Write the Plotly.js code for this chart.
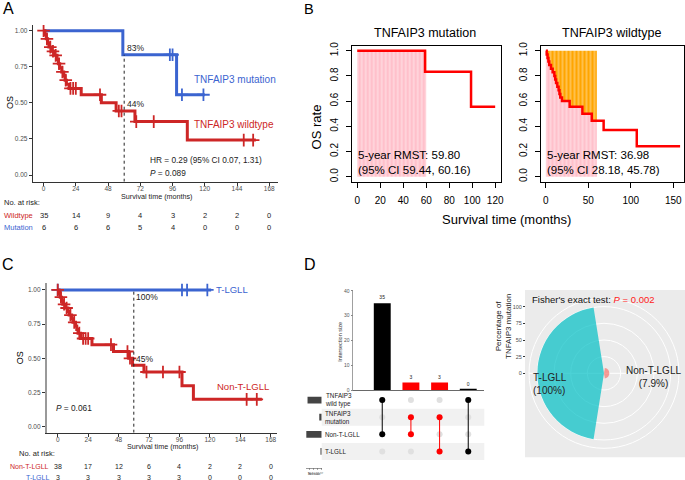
<!DOCTYPE html>
<html><head><meta charset="utf-8">
<script src="https://cdn.plot.ly/plotly-3.0.1.min.js"></script>
<style>html,body{margin:0;padding:0;background:#fff}#chart{width:685px;height:480px}</style>
</head><body><div id="chart"></div>
<script>
// ---------- Panel A / B data (TNFAIP3) ----------
const wtTime   = [0,1,2,3,4,6,8,10,11,12,13.5,15,16,17,19,28,43,54,68,107,158];
const wtSurv   = [1,0.971,0.943,0.914,0.886,0.857,0.829,0.800,0.771,0.743,0.714,0.686,0.657,0.629,0.600,0.556,0.500,0.444,0.370,0.242,0.242];
const wtCensor = [0,2.5,5,7,9,11.5,14,16.5,20,22,24,42,56,58,69,82,149,156];
const mutTime   = [0,59,99,120];
const mutSurv   = [1,0.833,0.556,0.556];
const mutCensor = [94,96,103,119];
const riskTicks = [0,24,48,72,96,120,144,168];
const riskWild  = [35,14,9,4,3,2,2,0];
const riskMut   = [6,6,6,5,4,0,0,0];
const landmark  = 60;
const rmstMut = ['5-year RMST: 59.80','(95% CI 59.44, 60.16)'];
const rmstWt  = ['5-year RMST: 36.98','(95% CI 28.18, 45.78)'];
// ---------- Panel C data (T-LGLL) ----------
const ntTime   = [0,1,2,3,4,6,8,9,11,12,14,15,16,18,27,44,56,59,68,98,107,161];
const ntSurv   = [1,0.974,0.947,0.921,0.895,0.868,0.842,0.816,0.789,0.763,0.737,0.711,0.684,0.645,0.600,0.550,0.500,0.450,0.400,0.300,0.200,0.200];
const ntCensor = [0,2.5,5,7,10,13,17,20,22,24,42,55,57,70,83,96,149,157];
const tTime    = [0,121];
const tSurv    = [1,1];
const tCensor  = [0,98,102,118];
const riskNonT = [38,17,12,6,4,2,2,0];
const riskT    = [3,3,3,3,3,0,0,0];
// ---------- Panel D data ----------
const setNames   = ['TNFAIP3<br>wild type','TNFAIP3<br>mutation','Non-T-LGLL','T-LGLL'];
const setSizes   = [35,6,38,3];
const interSizes = [35,3,3,0];
const interMembers = [[0,2],[1,2],[1,3],[0,3]];
const interColors  = ['#000000','#FF0000','#FF0000','#000000'];
const polarGroups = ['Non-T-LGLL','T-LGLL'];
const polarPct    = [7.9,100];
const polarColors = ['rgba(248,118,109,0.7)','rgba(0,191,196,0.7)'];

const W=685,H=480;
const PX=p=>p/W, PY=p=>1-p/H;
const FONT='Liberation Sans, Arial, Helvetica, sans-serif';
const RED='#CD2626', BLUE='#3B64D0';

function stepAt(times,survs,t){let s=survs[0];for(let i=0;i<times.length;i++){if(times[i]<=t)s=survs[i];}return s;}
function truncate(times,survs,tau){const x=[],y=[];for(let i=0;i<times.length;i++){if(times[i]<tau){x.push(times[i]);y.push(survs[i]);}}x.push(tau);y.push(stepAt(times,survs,tau));return {x,y};}

const traces=[];
function km(times,survs,cens,color,xa,ya){
  traces.push({type:'scatter',mode:'lines',x:times,y:survs,xaxis:xa,yaxis:ya,line:{shape:'hv',color:color,width:3},hoverinfo:'skip'});
  traces.push({type:'scatter',mode:'markers',x:cens,y:cens.map(t=>stepAt(times,survs,t)),xaxis:xa,yaxis:ya,
    marker:{symbol:'cross-thin',size:9,color:color,line:{color:color,width:1.8}},hoverinfo:'skip'});
}
// Panel A
km(mutTime,mutSurv,mutCensor,BLUE,'x','y');
km(wtTime,wtSurv,wtCensor,RED,'x','y');
// Panel C
km(tTime,tSurv,tCensor,BLUE,'x4','y4');
km(ntTime,ntSurv,ntCensor,RED,'x4','y4');

// Panel B
function rmst(times,survs,xa,ya){
  const tr=truncate(times,survs,landmark);
  traces.push({type:'scatter',mode:'lines',x:tr.x,y:tr.y,xaxis:xa,yaxis:ya,line:{shape:'hv',width:0,color:'pink'},
    fill:'tozeroy',fillcolor:'#FFC0CB',fillpattern:{shape:'|',bgcolor:'#FFC0CB',fgcolor:'#FFFFFF',fgopacity:0.75,size:4,solidity:0.2},hoverinfo:'skip'});
  traces.push({type:'scatter',mode:'lines',x:tr.x,y:tr.x.map(()=>1),xaxis:xa,yaxis:ya,line:{width:0,color:'orange'},
    fill:'tonexty',fillcolor:'#FFA500',fillpattern:{shape:'|',bgcolor:'#FFA500',fgcolor:'#FFFFFF',fgopacity:0.75,size:4,solidity:0.2},hoverinfo:'skip'});
  traces.push({type:'scatter',mode:'lines',x:times,y:survs,xaxis:xa,yaxis:ya,line:{shape:'hv',color:'#FF0000',width:2.5},hoverinfo:'skip'});
}
rmst(mutTime,mutSurv,'x2','y2');
rmst(wtTime,wtSurv,'x3','y3');

// Panel D: intersection bars
const idx=interSizes.map((_,i)=>i);
traces.push({type:'bar',x:idx,y:interSizes,xaxis:'x5',yaxis:'y5',width:0.59,marker:{color:interColors},
  text:interSizes.map(String),textposition:'outside',textfont:{size:5,color:'#222'},cliponaxis:false,hoverinfo:'skip'});
const zeroIdx=idx.filter(i=>interSizes[i]===0);
zeroIdx.forEach(i=>traces.push({type:'scatter',mode:'lines',x:[i-0.295,i+0.295],y:[interSizes[i],interSizes[i]],xaxis:'x5',yaxis:'y5',
  line:{color:interColors[i],width:2.5},hoverinfo:'skip',cliponaxis:false}));
// matrix background dots
const gx=[],gy=[];
idx.forEach(i=>setNames.forEach((_,r)=>{gx.push(i);gy.push(r+1);}));
traces.push({type:'scatter',mode:'markers',x:gx,y:gy,xaxis:'x6',yaxis:'y6',marker:{size:6,color:'#E0E0E0'},hoverinfo:'skip'});
interMembers.forEach((m,i)=>{
  traces.push({type:'scatter',mode:'lines+markers',x:m.map(()=>i),y:m.map(r=>r+1),xaxis:'x6',yaxis:'y6',
    line:{color:interColors[i],width:1},marker:{size:6,color:interColors[i]},hoverinfo:'skip'});
});
// set size bars
traces.push({type:'bar',orientation:'h',x:setSizes,y:setNames.map((_,r)=>r+1),xaxis:'x7',yaxis:'y7',width:0.4,marker:{color:'#444444'},hoverinfo:'skip'});
// polar
traces.push({type:'barpolar',r:polarPct,theta:polarGroups.map((_,i)=>i*180+90),width:polarGroups.map(()=>162),
  marker:{color:polarColors,line:{width:0}},subplot:'polar',hoverinfo:'skip'});
traces.push({type:'scatter',mode:'markers',x:[0],y:[0],xaxis:'x8',yaxis:'y8',marker:{opacity:0},hoverinfo:'skip'});

// ---------- axes ----------
const kmX=(dom,rng)=>({domain:dom,range:rng,tickvals:riskTicks,ticks:'outside',ticklen:3,tickcolor:'#333',tickwidth:1,ticklabelstandoff:-3,
  showline:true,linecolor:'#333',linewidth:1,tickfont:{size:6.5,color:'#4D4D4D'},showgrid:false,zeroline:false});
const kmY=(dom,rng,lc,lw)=>({domain:dom,range:rng,tickvals:[0,0.25,0.5,0.75,1],tickformat:'.2f',ticks:'outside',ticklen:3,tickcolor:'#333',tickwidth:1,
  showline:true,linecolor:lc,linewidth:lw,tickfont:{size:6.5,color:'#4D4D4D'},showgrid:false,zeroline:false});
const bX=(dom,rng,tv)=>({domain:dom,range:rng,tickvals:tv,ticks:'outside',ticklen:5,tickcolor:'#000',showline:true,mirror:true,ticklabelstandoff:4,
  linecolor:'#000',linewidth:1,tickfont:{size:10,color:'#000'},showgrid:false,zeroline:false});
const bY=(dom)=>({domain:dom,range:[-0.04,1.04],tickvals:[0,0.2,0.4,0.6,0.8,1],tickformat:'.1f',tickangle:-90,ticks:'outside',ticklen:5,ticklabelstandoff:4,
  tickcolor:'#000',showline:true,mirror:true,linecolor:'#000',linewidth:1,tickfont:{size:10,color:'#000'},showgrid:false,zeroline:false});

const matDom=[PY(460),PY(391.5)];
const layout={
  width:W,height:H,margin:{l:0,r:0,t:0,b:0},paper_bgcolor:'#fff',plot_bgcolor:'rgba(0,0,0,0)',showlegend:false,
  font:{family:FONT,color:'#000'},
  xaxis:Object.assign(kmX([PX(32.7),PX(278)],[-8.1,174.5]),{anchor:'y'}),
  yaxis:Object.assign(kmY([PY(181.7),PY(25)],[-0.046,1.039],'#333',1),{anchor:'x'}),
  xaxis2:Object.assign(bX([PX(351.7),PX(500.7)],[-4.8,124.8],[0,20,40,60,80,100,120]),{anchor:'y2'}),
  yaxis2:Object.assign(bY([PY(181.7),PY(45.7)]),{anchor:'x2'}),
  xaxis3:Object.assign(bX([PX(540.5),PX(683.5)],[-6.3,162],[0,50,100,150]),{anchor:'y3'}),
  yaxis3:Object.assign(bY([PY(181.7),PY(45.7)]),{anchor:'x3'}),
  xaxis4:Object.assign(kmX([PX(46.7),PX(276.7)],[-8.7,172.7]),{anchor:'y4'}),
  yaxis4:Object.assign(kmY([PY(432.7),PY(282.7)],[-0.044,1.053],'#999',1.8),{anchor:'x4'}),
  xaxis5:{domain:[PX(353.3),PX(484.3)],range:[-1.01,3.56],anchor:'y5',showticklabels:false,ticks:'',showline:true,linecolor:'#444',linewidth:0.8,showgrid:false,zeroline:false},
  yaxis5:{domain:[PY(390),PY(290)],range:[0,40.4],anchor:'x5',tickvals:[0,10,20,30,40],ticks:'outside',ticklen:2,tickcolor:'#888',
    showline:true,linecolor:'#888',linewidth:0.8,tickfont:{size:5,color:'#555'},showgrid:false,zeroline:false},
  xaxis6:{domain:[PX(353.3),PX(484.3)],range:[-1.01,3.56],anchor:'y6',visible:false},
  yaxis6:{domain:matDom,range:[4.5,0.5],anchor:'x6',visible:false},
  xaxis7:{domain:[PX(305.5),PX(321.7)],range:[40,0],anchor:'free',position:PY(467.7),tickvals:[0,10,20,30],ticks:'outside',ticklen:1.5,
    tickcolor:'#555',tickwidth:0.5,showline:true,linecolor:'#555',linewidth:0.6,tickfont:{size:3,color:'#555'},showgrid:false,zeroline:false},
  yaxis7:{domain:matDom,range:[4.5,0.5],anchor:'x7',visible:false},
  xaxis8:{domain:[PX(600),PX(601)],range:[0,1],anchor:'y8',visible:false},
  yaxis8:{domain:[PY(373.3),PY(306.7)],range:[0,100],anchor:'free',position:PX(525),side:'left',tickvals:[0,25,50,75,100],
    ticks:'outside',ticklen:2,tickcolor:'#333',showline:false,tickfont:{size:5.5,color:'#4D4D4D'},showgrid:false,zeroline:false},
  polar:{domain:{x:[PX(529),PX(679)],y:[PY(448.3),PY(298.3)]},bgcolor:'#EBEBEB',
    radialaxis:{range:[0,112.5],tickvals:[25,50,75,100],showticklabels:false,ticks:'',showline:false,gridcolor:'#FFFFFF',gridwidth:1},
    angularaxis:{rotation:90,direction:'clockwise',tickvals:[90,270],showticklabels:false,ticks:'',showline:true,linecolor:'#FFFFFF',linewidth:1,
      gridcolor:'#FFFFFF',gridwidth:1}},
  shapes:[],annotations:[]
};
// dotted landmark lines
layout.shapes.push({type:'line',xref:'x',yref:'y',x0:landmark,x1:landmark,y0:-0.046,y1:stepAt(mutTime,mutSurv,landmark),line:{color:'#222',width:1,dash:'dot'}});
layout.shapes.push({type:'line',xref:'x4',yref:'y4',x0:landmark,x1:landmark,y0:-0.044,y1:stepAt(tTime,tSurv,landmark),line:{color:'#222',width:1,dash:'dot'}});
// upset bands
[1,3].forEach(r=>layout.shapes.push({type:'rect',layer:'below',xref:'paper',yref:'y6',x0:PX(321.7),x1:PX(484.3),y0:r+0.5,y1:r+1.5,fillcolor:'#F1F1F1',line:{width:0}}));
// polar grey panel
layout.shapes.push({type:'rect',layer:'below',xref:'paper',yref:'paper',x0:PX(525),x1:PX(685),y0:PY(457.3),y1:PY(290),fillcolor:'#EBEBEB',line:{width:0}});

function ann(text,x,y,o){layout.annotations.push(Object.assign({text:text,x:PX(x),y:PY(y),xref:'paper',yref:'paper',showarrow:false,
  xanchor:'left',yanchor:'middle',font:{size:8,color:'#000'}},o||{}));}
// panel letters
ann('A',1,8.5,{font:{size:16}}); ann('B',302,9,{font:{size:14.5}}); ann('C',0,264,{font:{size:16}}); ann('D',302,264,{font:{size:16}});
// Panel A texts
ann('OS',10,103,{xanchor:'center',textangle:-90,font:{size:9}});
ann('Survival time (months)',156.7,196.5,{xanchor:'center',font:{size:7.2,color:'#222'}});
ann('83%',125,47.7,{font:{size:8.5,color:'#222'}});
ann('44%',125,104,{font:{size:8.5,color:'#222'}});
ann('TNFAIP3 mutation',192,80,{font:{size:10,color:BLUE}});
ann('TNFAIP3 wildtype',192,124.3,{font:{size:10,color:RED}});
ann('HR = 0.29 (95% CI 0.07, 1.31)',148,160,{font:{size:8.3,color:'#222'}});
ann('<i>P</i> = 0.089',148,172.7,{font:{size:8.3,color:'#222'}});
ann('No. at risk:',2,203,{font:{size:7.5,color:'#222'}});
ann('Wildtype',2,215.7,{font:{size:7.5,color:RED}});
ann('Mutation',2,227.7,{font:{size:7.5,color:BLUE}});
riskTicks.forEach((t,i)=>{
  layout.annotations.push({text:String(riskWild[i]),x:t,y:PY(215.7),xref:'x',yref:'paper',showarrow:false,xanchor:'center',yanchor:'middle',font:{size:7.5,color:'#222'}});
  layout.annotations.push({text:String(riskMut[i]),x:t,y:PY(227.7),xref:'x',yref:'paper',showarrow:false,xanchor:'center',yanchor:'middle',font:{size:7.5,color:'#222'}});
  layout.annotations.push({text:String(riskNonT[i]),x:t,y:PY(466.7),xref:'x4',yref:'paper',showarrow:false,xanchor:'center',yanchor:'middle',font:{size:7,color:'#222'}});
  layout.annotations.push({text:String(riskT[i]),x:t,y:PY(477.5),xref:'x4',yref:'paper',showarrow:false,xanchor:'center',yanchor:'middle',font:{size:7,color:'#222'}});
});
// Panel B texts
ann('TNFAIP3 mutation',425,33,{xanchor:'center',font:{size:12.5}});
ann('TNFAIP3 wildtype',611.7,33,{xanchor:'center',font:{size:12.5}});
ann('OS rate',316.7,126.7,{xanchor:'center',textangle:-90,font:{size:13}});
ann('Survival time (months)',506.7,220,{xanchor:'center',font:{size:13}});
ann(rmstMut[0],356,155,{font:{size:11.5}}); ann(rmstMut[1],356,170,{font:{size:11.5}});
ann(rmstWt[0],545,155,{font:{size:11.5}});  ann(rmstWt[1],545,170,{font:{size:11.5}});
// Panel C texts
ann('OS',20,358.3,{xanchor:'center',textangle:-90,font:{size:9}});
ann('Survival time (months)',163.3,446.7,{xanchor:'center',font:{size:7.2,color:'#222'}});
ann('100%',134,297,{font:{size:8.5,color:'#222'}});
ann('45%',134,359,{font:{size:8.5,color:'#222'}});
ann('T-LGLL',214,289.7,{font:{size:9.5,color:BLUE}});
ann('Non-T-LGLL',215,386.7,{font:{size:9.5,color:RED}});
ann('<i>P</i> = 0.061',54,408,{font:{size:8.3,color:'#222'}});
ann('No. at risk:',17,453,{font:{size:7.5,color:'#222'}});
ann('Non-T-LGLL',51,466.7,{xanchor:'right',font:{size:7,color:RED}});
ann('T-LGLL',51,477.5,{xanchor:'right',font:{size:7,color:BLUE}});
// Panel D texts
ann('Intersection size',340,341.7,{xanchor:'center',textangle:-90,font:{size:5.5,color:'#333'}});
setNames.forEach((n,r)=>{
  layout.annotations.push({text:n,x:PX(323),y:r+1,xref:'paper',yref:'y6',showarrow:false,xanchor:'left',yanchor:'middle',align:'left',font:{size:6.3,color:'#222'}});
});
ann('Set size',314,474,{xanchor:'center',font:{size:3.5,color:'#444'}});
ann('Fisher\'s exact test: <span style="color:#FF2020"><i>P</i> = 0.002</span>',530,299.5,{font:{size:9.5,color:'#111'}});
ann('Percentage of<br>TNFAIP3 mutation',503.3,326.7,{xanchor:'center',textangle:-90,font:{size:8,color:'#222'}});
ann(polarGroups[1]+'<br>('+polarPct[1]+'%)',530.5,383.5,{align:'left',font:{size:10,color:'#222'}});
ann(polarGroups[0]+'<br>('+polarPct[0]+'%)',653.3,377.3,{xanchor:'center',align:'center',font:{size:10,color:'#222'}});

Plotly.newPlot('chart',traces,layout,{staticPlot:true,displayModeBar:false});
</script></body></html>
